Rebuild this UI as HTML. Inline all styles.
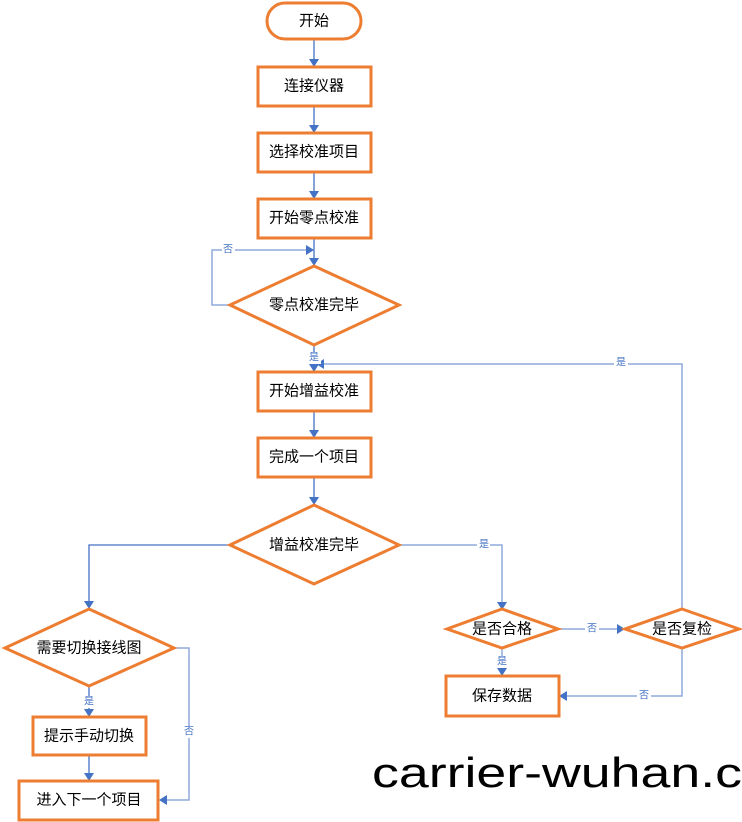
<!DOCTYPE html>
<html><head><meta charset="utf-8"><style>
html,body{margin:0;padding:0;background:#fff;}
svg{display:block;}
.b{fill:#fff;stroke:#ED7D31;stroke-width:3;}
.l{fill:none;stroke:#4472C4;stroke-width:1.3;}
.l2{fill:none;stroke:#8FAADC;stroke-width:1.5;}
.t{font-family:"Liberation Sans","Noto Sans CJK SC",sans-serif;font-size:15px;fill:#000;text-anchor:middle;dominant-baseline:central;}
.s{font-family:"Liberation Sans","Noto Sans CJK SC",sans-serif;font-size:10px;fill:#4472C4;text-anchor:middle;dominant-baseline:central;}
.a{fill:#4472C4;}
</style></head><body>
<svg width="742" height="822" viewBox="0 0 742 822" xmlns="http://www.w3.org/2000/svg">
<!-- connectors -->
<path class="l" d="M314 39V60M314 106V126M314 172V192M314 238V259M314 345V365M314 411V431M314 477V498M89 686V710M89 755V774"/>
<path class="l2" d="M230 305H212V250H307"/>
<path class="l" d="M230 545H89V602"/>
<path class="l2" d="M399 545H502V603"/>
<path class="l2" d="M558 629H618"/>
<path class="l2" d="M682 648V696H566"/>
<path class="l2" d="M682 609V364H322"/>
<path class="l2" d="M502 648V669"/>
<path class="l2" d="M174 648H189V800H166"/>
<!-- arrowheads -->
<g class="a">
<path d="M309 59h10l-5 8z"/><path d="M309 125h10l-5 8z"/><path d="M309 191h10l-5 8z"/><path d="M309 258h10l-5 8z"/>
<path d="M309 364h10l-5 8z"/><path d="M309 430h10l-5 8z"/><path d="M309 497h10l-5 8z"/>
<path d="M306 245v10l8-5z"/>
<path d="M316 364l8-5v10z"/>
<path d="M84 601h10l-5 8z"/><path d="M497 602h10l-5 8z"/><path d="M497 668h10l-5 8z"/>
<path d="M617 624v10l8-5z"/><path d="M559 696l8-5v10z"/>
<path d="M84 709h10l-5 8z"/><path d="M84 773h10l-5 8z"/><path d="M159 800l8-5v10z"/>
</g>
<!-- labels on lines -->
<rect x="222" y="244" width="13" height="12" fill="#fff"/><text class="s" x="228" y="250">否</text>
<rect x="308" y="352" width="13" height="12" fill="#fff"/><text class="s" x="314" y="358">是</text>
<rect x="477" y="539" width="13" height="12" fill="#fff"/><text class="s" x="484" y="545">是</text>
<rect x="585" y="623" width="14" height="12" fill="#fff"/><text class="s" x="592" y="629">否</text>
<rect x="637" y="690" width="14" height="12" fill="#fff"/><text class="s" x="644" y="696">否</text>
<rect x="614" y="357" width="14" height="12" fill="#fff"/><text class="s" x="621" y="363">是</text>
<rect x="495" y="656" width="14" height="12" fill="#fff"/><text class="s" x="502" y="662">是</text>
<rect x="82" y="696" width="14" height="12" fill="#fff"/><text class="s" x="89" y="702">是</text>
<rect x="182" y="726" width="14" height="12" fill="#fff"/><text class="s" x="189" y="732">否</text>
<!-- shapes -->
<rect class="b" x="267" y="3" width="94" height="36" rx="18"/><text class="t" x="314" y="21">开始</text>
<rect class="b" x="258" y="67" width="113" height="39"/><text class="t" x="314" y="86">连接仪器</text>
<rect class="b" x="258" y="133" width="113" height="39"/><text class="t" x="314" y="152">选择校准项目</text>
<rect class="b" x="258" y="199" width="113" height="39"/><text class="t" x="314" y="218">开始零点校准</text>
<path class="b" d="M314 266L399 305L314 345L230 305Z"/><text class="t" x="314" y="305">零点校准完毕</text>
<rect class="b" x="258" y="372" width="113" height="39"/><text class="t" x="314" y="391">开始增益校准</text>
<rect class="b" x="258" y="438" width="113" height="39"/><text class="t" x="314" y="457">完成一个项目</text>
<path class="b" d="M314 505L399 545L314 584L230 545Z"/><text class="t" x="314" y="545">增益校准完毕</text>
<path class="b" d="M89 609L174 648L89 686L5 648Z"/><text class="t" x="89" y="648">需要切换接线图</text>
<path class="b" d="M502 609L558 629L502 648L447 629Z"/><text class="t" x="502" y="629">是否合格</text>
<path class="b" d="M682 609L739 629L682 648L625 629Z"/><text class="t" x="682" y="629">是否复检</text>
<rect class="b" x="446" y="676" width="113" height="40"/><text class="t" x="502" y="696">保存数据</text>
<rect class="b" x="33" y="717" width="113" height="38"/><text class="t" x="89" y="736">提示手动切换</text>
<rect class="b" x="19" y="781" width="139" height="39"/><text class="t" x="89" y="800">进入下一个项目</text>
<text x="372" y="787" font-family="Liberation Sans, sans-serif" font-size="42" textLength="370" lengthAdjust="spacingAndGlyphs" fill="#000">carrier-wuhan.c</text>
</svg>
</body></html>
